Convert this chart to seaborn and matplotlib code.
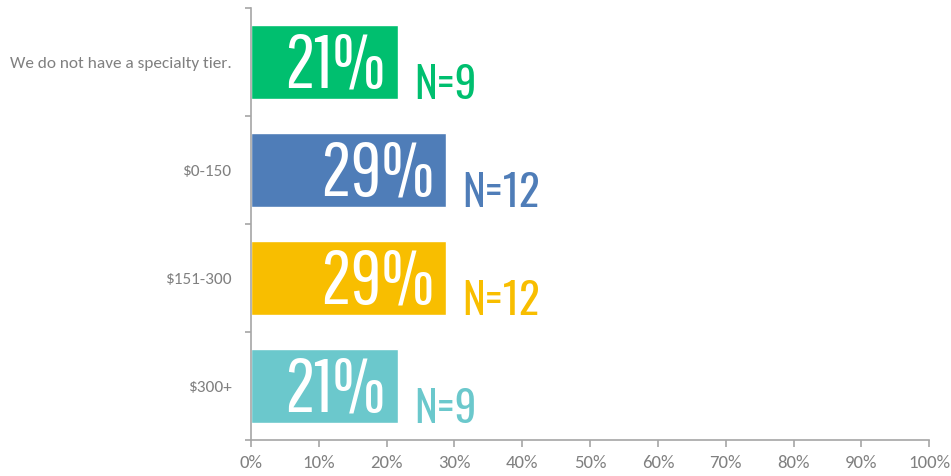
import matplotlib
matplotlib.use("Agg")
import matplotlib.pyplot as plt
import seaborn as sns
import pandas as pd
import numpy as np
from matplotlib.ticker import FixedLocator, PercentFormatter

categories = ["We do not have a specialty tier.", "$0-150", "$151-300", "$300+"]
values = [0.216, 0.288, 0.288, 0.216]
pct_labels = ["21%", "29%", "29%", "21%"]
n_labels = ["N=9", "N=12", "N=12", "N=9"]
colors = ["#00BF6F", "#4F7DB8", "#F8BE00", "#6BC8CC"]
xticks = [0, 0.1, 0.2, 0.3, 0.4, 0.5, 0.6, 0.7, 0.8, 0.9, 1.0]

df = pd.DataFrame({"category": categories, "value": values})

sns.set_style("white")
plt.rcParams["font.family"] = ["Carlito", "DejaVu Sans"]

fig = plt.figure(figsize=(9.51, 4.76), dpi=100)
ax = fig.add_axes([0.264, 0.0756, 0.713, 0.9074])
sns.barplot(data=df, x="value", y="category", hue="category", palette=colors,
            order=categories, hue_order=categories, orient="h", width=0.68,
            dodge=False, legend=False, ax=ax, saturation=1)

ax.set_xlim(0, 1)
ax.set_ylim(len(categories) - 0.5, -0.5)
ax.set_xticks(xticks)
ax.xaxis.set_major_formatter(PercentFormatter(1.0, decimals=0))
ax.set_xlabel("")
ax.set_ylabel("")

grey = "#A6A6A6"
for s in ["top", "right"]:
    ax.spines[s].set_visible(False)
for s in ["left", "bottom"]:
    ax.spines[s].set_color(grey)
    ax.spines[s].set_linewidth(1.2)

ax.tick_params(axis="x", which="major", bottom=True, length=5, width=1.2, color=grey,
               labelsize=13.5, labelcolor="#808080", pad=6, direction="out")
ax.tick_params(axis="y", which="major", left=False, length=0, labelsize=12.4,
               labelcolor="#808080", pad=14)
ax.yaxis.set_minor_locator(FixedLocator(np.arange(-0.5, len(categories), 1.0)))
ax.tick_params(axis="y", which="minor", left=True, length=4, width=1.2, color=grey,
               direction="out")

for i, (v, p, n, c) in enumerate(zip(values, pct_labels, n_labels, colors)):
    ax.text(v - 0.017, i + 0.04, p, ha="right", va="center", color="white",
            fontsize=55, family=["Pathway Gothic One", "DejaVu Sans"])
    ax.text(v + 0.024, i + 0.34, n, ha="left", va="baseline", color=c,
            fontsize=31, family=["Oswald", "DejaVu Sans"], fontweight="bold")

fig.savefig("out.png", dpi=100)
